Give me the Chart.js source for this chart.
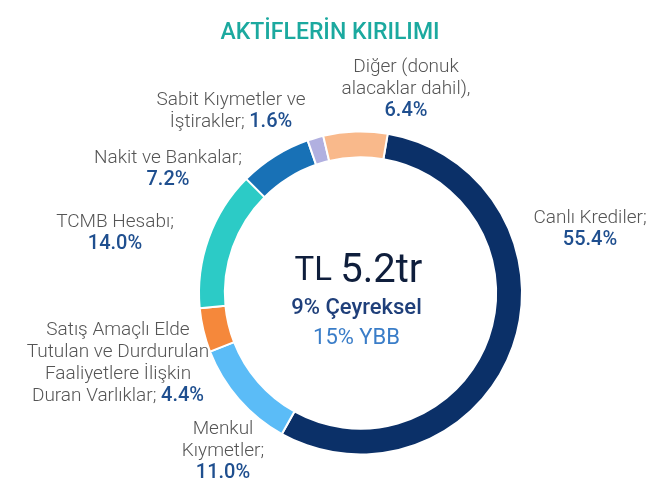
<!DOCTYPE html>
<html>
<head>
<meta charset="utf-8">
<script src="https://cdn.jsdelivr.net/npm/chart.js@4"></script>
<style>
  html, body { margin: 0; padding: 0; background: #fff; }
</style>
</head>
<body>
<canvas id="assets" width="670" height="494"></canvas>
<script>
const categories = [
  'Canlı Krediler',
  'Menkul Kıymetler',
  'Satış Amaçlı Elde Tutulan ve Durdurulan Faaliyetlere İlişkin Duran Varlıklar',
  'TCMB Hesabı',
  'Nakit ve Bankalar',
  'Sabit Kıymetler ve İştirakler',
  'Diğer (donuk alacaklar dahil)'
];
const shares = [55.4, 11.0, 4.4, 14.0, 7.2, 1.6, 6.4];
const sliceColors = ['#0b3068', '#5bbcf7', '#f5883b', '#2ccbc6', '#1871b6', '#b1b0e0', '#f9b98b'];

// how each label is broken into lines; '{v}' is where the value goes
const labelLines = [
  ['Canlı Krediler;', '{v}'],
  ['Menkul', 'Kıymetler;', '{v}'],
  ['Satış Amaçlı Elde', 'Tutulan ve Durdurulan', 'Faaliyetlere İlişkin', 'Duran Varlıklar; {v}'],
  ['TCMB Hesabı;', '{v}'],
  ['Nakit ve Bankalar;', '{v}'],
  ['Sabit Kıymetler ve', 'İştirakler; {v}'],
  ['Diğer (donuk', 'alacaklar dahil),', '{v}']
];
// centre x and first line y of each label
const labelPos = [
  [590, 218], [223, 429], [118, 330], [115, 222], [168, 158], [231, 100], [406, 67]
];

const labelFont = '300 19px Roboto';
const valueFont = '500 20px Roboto';
const lineH = 22;

function drawLine(ctx, parts, cx, cy) {
  let w = 0;
  parts.forEach(p => { ctx.font = p.font; w += ctx.measureText(p.text).width; });
  let x = cx - w / 2;
  parts.forEach(p => {
    ctx.font = p.font;
    ctx.fillStyle = p.color;
    ctx.fillText(p.text, x, cy);
    x += ctx.measureText(p.text).width;
  });
}

const labelsPlugin = {
  id: 'labels',
  afterDraw(chart) {
    const ctx = chart.ctx;
    ctx.save();
    ctx.textBaseline = 'middle';
    ctx.textAlign = 'left';

    // title
    drawLine(ctx, [{ text: 'AKTİFLERİN KIRILIMI', font: '500 23px Roboto', color: '#1ba99f' }], 330, 33);

    shares.forEach((v, i) => {
      const val = v.toFixed(1) + '%';
      labelLines[i].forEach((line, k) => {
        const y = labelPos[i][1] + k * lineH;
        const parts = [];
        if (line === '{v}') {
          parts.push({ text: val, font: valueFont, color: '#1f4f8f' });
        } else if (line.includes('{v}')) {
          parts.push({ text: line.replace('{v}', ''), font: labelFont, color: '#555555' });
          parts.push({ text: val, font: valueFont, color: '#1f4f8f' });
        } else {
          parts.push({ text: line, font: labelFont, color: '#555555' });
        }
        drawLine(ctx, parts, labelPos[i][0], y);
      });
    });

    // centre text
    const c = chart.getDatasetMeta(0).data[0];
    const cx = c.x, cy = c.y;
    drawLine(ctx, [
      { text: 'TL ', font: '400 33px Roboto', color: '#0f1e3c' },
      { text: '5.2tr', font: '400 40px Roboto', color: '#0f1e3c' }
    ], cx - 2, cy - 21);
    drawLine(ctx, [{ text: '9% Çeyreksel', font: '500 22px Roboto', color: '#1f3f7a' }], cx - 4, cy + 15);
    drawLine(ctx, [{ text: '15% YBB', font: '400 22px Roboto', color: '#3a7dc8' }], cx - 4, cy + 45);
    ctx.restore();
  }
};

new Chart(document.getElementById('assets'), {
  type: 'doughnut',
  data: {
    labels: categories,
    datasets: [{
      data: shares,
      backgroundColor: sliceColors,
      borderColor: '#ffffff',
      borderWidth: 2
    }]
  },
  options: {
    responsive: false,
    animation: false,
    rotation: 9.7,
    cutout: '84%',
    layout: {
      padding: { top: 130, bottom: 38, left: 198, right: 147 }
    },
    plugins: {
      legend: { display: false },
      tooltip: { enabled: false }
    }
  },
  plugins: [labelsPlugin]
});
</script>
</body>
</html>
